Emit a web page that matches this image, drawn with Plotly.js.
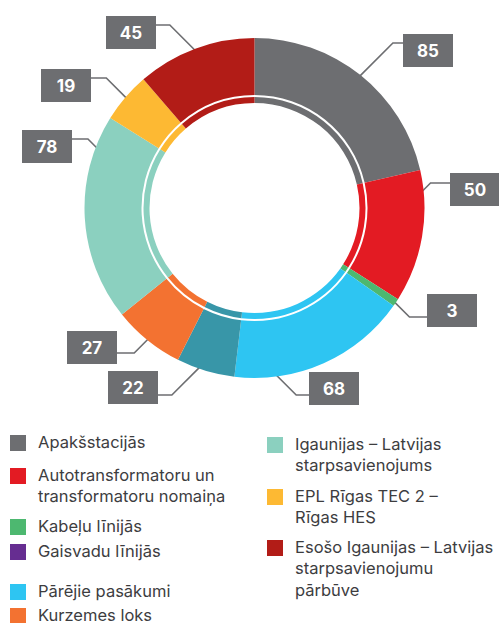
<!DOCTYPE html>
<html><head><meta charset="utf-8">
<script src="https://cdn.plot.ly/plotly-3.0.1.min.js"></script>
<style>html,body{margin:0;padding:0;background:#fff}</style>
</head><body><div id="chart" style="width:499px;height:623px"></div>
<script>
// ---- data ----
const sliceLabels = ['Apakšstacijās','Autotransformatoru un transformatoru nomaiņa','Kabeļu līnijās','Pārējie pasākumi','Gaisvadu līnijās','Kurzemes loks','Igaunijas – Latvijas starpsavienojums','EPL Rīgas TEC 2 – Rīgas HES','Esošo Igaunijas – Latvijas starpsavienojumu pārbūve'];
const sliceValues = [85, 50, 3, 68, 22, 27, 78, 19, 45];
const sliceColors = ['#6d6e71','#e31b23','#4db870','#2ec5f2','#3896a8','#f37231','#8bd0bf','#fdb933','#b21c17'];

const legendLabels = ['Apakšstacijās','Autotransformatoru un<br>transformatoru nomaiņa','Kabeļu līnijās','Gaisvadu līnijās','Pārējie pasākumi','Kurzemes loks','Igaunijas – Latvijas<br>starpsavienojums','EPL Rīgas TEC 2 –<br>Rīgas HES','Esošo Igaunijas – Latvijas<br>starpsavienojumu<br>pārbūve'];
const legendColors = ['#6d6e71','#e31b23','#4db870','#662d91','#2ec5f2','#f37231','#8bd0bf','#fdb933','#b21c17'];

// ---- layout / styling ----
const W = 499, H = 623;
const CX = 254.5, CY = 208, R_OUT = 170, R_OUT_IN = 113, R_IN = 111, R_IN_IN = 105;
const FONT = 'Inter, Lato, sans-serif';
const BOX_COLOR = '#6d6e71';
// label box placement: centre x, centre y, leader horizontal y, extra angle offset
const labelPlace = [
  {bx:428, by:50.5, ly:43, off:0},
  {bx:475, by:189, ly:183, off:-15},
  {bx:452, by:310.5, ly:317, off:0},
  {bx:334, by:388.5, ly:395, off:17},
  {bx:133, by:387.5, ly:395, off:2},
  {bx:92, by:347, ly:353, off:0},
  {bx:46.5, by:146.5, ly:139, off:24},
  {bx:65.5, by:85.5, ly:78, off:0},
  {bx:131, by:32, ly:25, off:0}
];
const BOX_W = 50, BOX_H = 33;
// legend placement
const legendPlace = [
  {x:10, y:435}, {x:10, y:468}, {x:10, y:519}, {x:10, y:544}, {x:10, y:584}, {x:10, y:608},
  {x:267, y:437}, {x:267, y:489}, {x:267, y:540}
];
const SQ = 16;

function domainFor(r){
  return {x:[(CX-r)/W,(CX+r)/W], y:[1-(CY+r)/H, 1-(CY-r)/H]};
}

const total = sliceValues.reduce((a,b)=>a+b,0);
let cum = 0;
const lx = [], ly = [];
const annotations = [];
sliceValues.forEach((v,i)=>{
  const mid = (cum + v/2)/total*360;
  cum += v;
  const p = labelPlace[i];
  const a = (mid + p.off) * Math.PI/180;
  const ax = CX + (R_OUT-3)*Math.sin(a);
  const ay = CY - (R_OUT-3)*Math.cos(a);
  const right = p.bx > CX;
  const dy = Math.abs(p.ly - ay);
  const ex = right ? ax + dy : ax - dy;
  const endX = right ? p.bx - BOX_W/2 : p.bx + BOX_W/2;
  lx.push(ax, ex, endX, null);
  ly.push(ay, p.ly, p.ly, null);
  annotations.push({
    xref:'x', yref:'y', x:p.bx, y:p.by, text:'<b>'+v+'</b>', showarrow:false,
    width:BOX_W, height:BOX_H, bgcolor:BOX_COLOR, borderpad:0, borderwidth:0,
    font:{family:FONT, size:17, color:'#ffffff'}, xanchor:'center', yanchor:'middle'
  });
});

const shapes = [];
legendLabels.forEach((t,i)=>{
  const p = legendPlace[i];
  shapes.push({type:'rect', xref:'x', yref:'y', x0:p.x, x1:p.x+SQ, y0:p.y, y1:p.y+SQ,
    fillcolor:legendColors[i], line:{width:0}});
  annotations.push({xref:'x', yref:'y', x:p.x+SQ+11, y:p.y-4, text:t, showarrow:false,
    xanchor:'left', yanchor:'top', align:'left', borderpad:0,
    font:{family:FONT, size:16.5, color:'#3d3d3f'}});
});

const data = [
  {type:'scatter', mode:'lines', x:lx, y:ly, line:{color:'#6d6e71', width:1.6}, hoverinfo:'skip', showlegend:false, connectgaps:false},
  {type:'pie', labels:sliceLabels, values:sliceValues, marker:{colors:sliceColors, line:{width:0}},
   sort:false, direction:'clockwise', rotation:0, hole:R_OUT_IN/R_OUT, textinfo:'none', hoverinfo:'skip',
   domain:domainFor(R_OUT), showlegend:false},
  {type:'pie', labels:sliceLabels, values:sliceValues, marker:{colors:sliceColors, line:{width:0}},
   sort:false, direction:'clockwise', rotation:0, hole:R_IN_IN/R_IN, textinfo:'none', hoverinfo:'skip',
   domain:domainFor(R_IN), showlegend:false}
];

const layout = {
  width:W, height:H, margin:{l:0,r:0,t:0,b:0}, paper_bgcolor:'#fff', plot_bgcolor:'#fff',
  showlegend:false,
  xaxis:{range:[0,W], visible:false, fixedrange:true},
  yaxis:{range:[H,0], visible:false, fixedrange:true},
  annotations:annotations, shapes:shapes
};
Plotly.newPlot('chart', data, layout, {staticPlot:true, displayModeBar:false});
</script></body></html>
